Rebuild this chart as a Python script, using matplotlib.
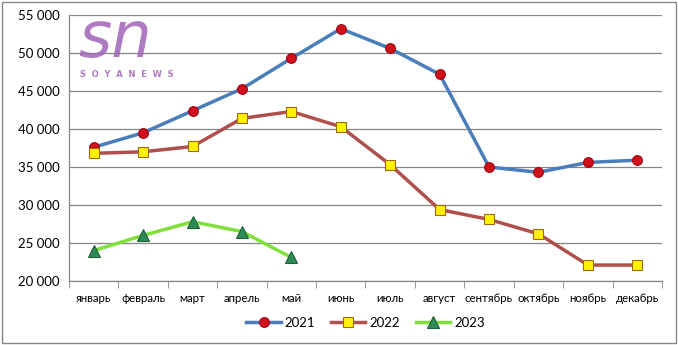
import matplotlib.pyplot as plt
import matplotlib.patches as mpatches
from matplotlib.ticker import FuncFormatter, FixedLocator
import numpy as np

months = ['январь', 'февраль', 'март', 'апрель', 'май', 'июнь', 'июль',
          'август', 'сентябрь', 'октябрь', 'ноябрь', 'декабрь']
sales_2021 = [37600, 39500, 42400, 45300, 49300, 53200, 50600, 47200,
              35000, 34300, 35600, 35900]
sales_2022 = [36800, 37000, 37700, 41400, 42300, 40300, 35300, 29400,
              28100, 26200, 22100, 22100]
sales_2023 = [24000, 26000, 27800, 26500, 23100]

plt.rcParams['font.family'] = ['Lato', 'DejaVu Sans']

fig = plt.figure(figsize=(6.78, 3.45), dpi=100)
ax = fig.add_axes([69 / 678, 1 - 281 / 345, (662 - 69) / 678, (281 - 15) / 345])

x = np.arange(len(months))
ax.plot(x, sales_2021, color='#4A7EBB', lw=2.5, marker='o', ms=7,
        mfc='#D0101A', mec='#A00010', mew=0.8, label='2021', zorder=3)
ax.plot(x, sales_2022, color='#B0504C', lw=2.5, marker='s', ms=7,
        mfc='#FFF200', mec='#9B6A10', mew=0.8, label='2022', zorder=3)
ax.plot(x[:len(sales_2023)], sales_2023, color='#7FE03A', lw=2.5, marker='^',
        ms=8, mfc='#2E8B57', mec='#1F5F3A', mew=0.8, label='2023', zorder=3)

ax.set_xlim(-0.5, len(months) - 0.5)
ax.set_ylim(20000, 55000)
ax.set_yticks(range(20000, 55001, 5000))
ax.yaxis.set_major_formatter(FuncFormatter(lambda v, p: f'{int(v):,}'.replace(',', ' ')))
ax.set_xticks(x)
ax.set_xticklabels(months)
ax.xaxis.set_minor_locator(FixedLocator(np.arange(-0.5, len(months), 1)))
ax.tick_params(axis='x', which='major', length=0, pad=9, labelsize=8.3)
ax.tick_params(axis='x', which='minor', length=5, color='#868686')
ax.tick_params(axis='y', length=0, pad=7, labelsize=9.5)
ax.grid(axis='y', color='#868686', lw=0.9)
ax.set_axisbelow(True)
for s in ['top', 'right']:
    ax.spines[s].set_visible(False)
for s in ['left', 'bottom']:
    ax.spines[s].set_color('#868686')
    ax.spines[s].set_linewidth(0.9)

ax.legend(loc='center', bbox_to_anchor=(0.5, -0.158), ncol=3, frameon=False,
          fontsize=9.5, handlelength=2.6, columnspacing=1.2, handletextpad=0.3)

# watermark logo
fig.text(78 / 678, 1 - 57 / 345, 'sn', fontsize=46, color='#A064B8', alpha=0.85,
         style='italic', family='DejaVu Sans')
fig.text(80 / 678, 1 - 77 / 345, 'S  O  Y  A  N  E  W  S', fontsize=6,
         color='#A064B8', alpha=0.85, weight='bold', family='DejaVu Sans')

fig.patches.append(mpatches.Rectangle((2 / 678, 2 / 345), 674 / 678, 341 / 345,
                                      transform=fig.transFigure, fill=False,
                                      ec='#868686', lw=1))

fig.savefig('out.png', dpi=100)
